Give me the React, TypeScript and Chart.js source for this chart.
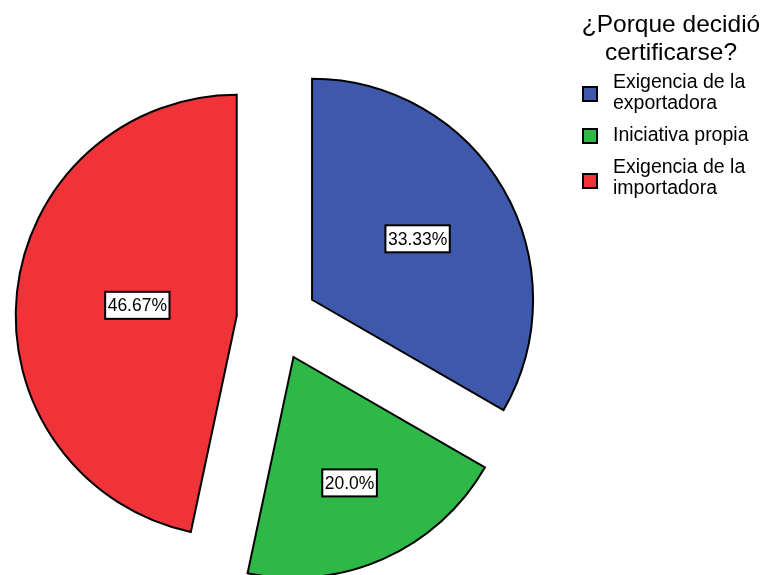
import React, { useEffect, useRef } from "react";
import { Chart, registerables } from "chart.js";

Chart.register(...registerables);

const legendTitle = ["¿Porque decidió", "certificarse?"];
const categories = ["Exigencia de la exportadora", "Iniciativa propia", "Exigencia de la importadora"];
const values = [33.33, 20.0, 46.67];
const valueLabels = ["33.33%", "20.0%", "46.67%"];
const colors = ["#3E58AC", "#2EB848", "#EF3338"];

const FONT = '"Liberation Sans", Arial, Helvetica, sans-serif';
const EXPLODE = 40.5;

const explodePlugin = {
  id: "explode",
  afterDatasetsUpdate(chart: any) {
    const meta = chart.getDatasetMeta(0);
    meta.data.forEach((el: any) => {
      const mid = (el.startAngle + el.endAngle) / 2;
      el.x += Math.cos(mid) * EXPLODE;
      el.y += Math.sin(mid) * EXPLODE;
    });
  },
};

const labelPlugin = {
  id: "sliceLabels",
  afterDatasetsDraw(chart: any) {
    const ctx = chart.ctx;
    const meta = chart.getDatasetMeta(0);
    ctx.save();
    ctx.font = `17.5px ${FONT}`;
    ctx.textAlign = "center";
    ctx.textBaseline = "middle";
    meta.data.forEach((el: any, i: number) => {
      const alpha = el.endAngle - el.startAngle;
      const mid = (el.startAngle + el.endAngle) / 2;
      const r = el.outerRadius;
      const d = (2 * r * Math.sin(alpha / 2)) / (3 * (alpha / 2));
      const cx = el.x + Math.cos(mid) * d;
      const cy = el.y + Math.sin(mid) * d;
      const text = valueLabels[i];
      const w = ctx.measureText(text).width + 5;
      const h = 27;
      ctx.fillStyle = "#ffffff";
      ctx.fillRect(cx - w / 2, cy - h / 2, w, h);
      ctx.lineWidth = 2;
      ctx.strokeStyle = "#000000";
      ctx.strokeRect(cx - w / 2, cy - h / 2, w, h);
      ctx.fillStyle = "#000000";
      ctx.fillText(text, cx, cy + 1);
    });
    ctx.restore();
  },
};

export default function App() {
  const canvasRef = useRef<HTMLCanvasElement | null>(null);

  useEffect(() => {
    if (!canvasRef.current) return;
    const chart = new Chart(canvasRef.current, {
      type: "pie",
      data: {
        labels: categories,
        datasets: [
          {
            data: values,
            backgroundColor: colors,
            borderColor: "#000000",
            borderWidth: 2,
            borderJoinStyle: "miter",
          } as any,
        ],
      },
      options: {
        animation: false,
        responsive: false,
        radius: 221,
        layout: { padding: { left: 0, right: 211, top: 65, bottom: 0 } },
        plugins: {
          legend: { display: false },
          tooltip: { enabled: false },
        },
      } as any,
      plugins: [explodePlugin, labelPlugin],
    });
    return () => chart.destroy();
  }, []);

  const itemTextTops = [71, 124.4, 156];
  const squareTops = [86, 128, 173];

  return (
    <div style={{ position: "absolute", left: 0, top: 0, width: 765, height: 575, background: "#fff", overflow: "hidden" }}>
      <canvas ref={canvasRef} width={765} height={575} style={{ position: "absolute", left: 0, top: 0 }} />
      <div
        style={{
          position: "absolute",
          left: 577,
          top: 9.8,
          width: 188,
          textAlign: "center",
          fontFamily: FONT,
          fontSize: 24.5,
          lineHeight: "28px",
          color: "#000",
          whiteSpace: "nowrap",
        }}
      >
        {legendTitle.map((t, i) => (
          <div key={i}>{t}</div>
        ))}
      </div>
      {categories.map((c, i) => (
        <React.Fragment key={i}>
          <div
            style={{
              position: "absolute",
              left: 582,
              top: squareTops[i],
              width: 12,
              height: 12,
              border: "2px solid #000",
              background: colors[i],
            }}
          />
          <div
            style={{
              position: "absolute",
              left: 613,
              top: itemTextTops[i],
              width: 145,
              fontFamily: FONT,
              fontSize: 19.5,
              lineHeight: "21px",
              color: "#000",
            }}
          >
            {c}
          </div>
        </React.Fragment>
      ))}
    </div>
  );
}
